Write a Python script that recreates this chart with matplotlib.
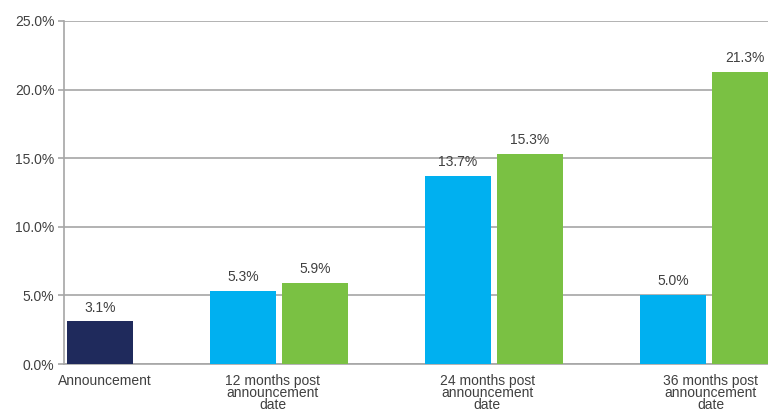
import matplotlib
matplotlib.use('Agg')
import matplotlib.pyplot as plt

# Values (percent)
categories = ['Announcement', '12 months post\nannouncement\ndate',
              '24 months post\nannouncement\ndate', '36 months post\nannouncement\ndate']
announcement_value = [3.1]
blue_values = [5.3, 13.7, 5.0]
green_values = [5.9, 15.3, 21.3]

navy = '#1f2a5c'
blue = '#00b0f0'
green = '#7ac143'
text_col = '#404040'
grid_col = '#a6a6a6'

plt.rcParams['font.family'] = ['Liberation Sans', 'DejaVu Sans']

fig = plt.figure(figsize=(7.68, 4.12), dpi=100)
ax = fig.add_axes([64 / 768, 48 / 412, 720 / 768, 343 / 412])

width = 0.307
offset = 0.167
groups = [1, 2, 3]

bars_a = ax.bar([offset], announcement_value, width, color=navy, zorder=3)
bars_b = ax.bar([g - offset for g in groups], blue_values, width, color=blue, zorder=3)
bars_g = ax.bar([g + offset for g in groups], green_values, width, color=green, zorder=3)

for bars in (bars_a, bars_b, bars_g):
    for b in bars:
        h = b.get_height()
        ax.annotate(f'{h:.1f}%', (b.get_x() + b.get_width() / 2, h),
                    xytext=(0, 5), textcoords='offset points',
                    ha='center', va='bottom', fontsize=10, color=text_col)

ax.set_xlim(0, 3.35)
ax.set_ylim(0, 25)
ax.set_yticks([0, 5, 10, 15, 20, 25])
ax.set_yticklabels([f'{v:.1f}%' for v in [0, 5, 10, 15, 20, 25]])
ax.yaxis.grid(True, color=grid_col, linewidth=1.2, zorder=0)

ax.set_xticks([0.19, 0.97, 1.97, 3.01])
ax.set_xticklabels(categories, linespacing=0.82)
ax.tick_params(axis='x', length=0, pad=7, labelsize=10, labelcolor=text_col)
ax.tick_params(axis='y', length=4, color=grid_col, width=1.2, pad=3,
               labelsize=10, labelcolor=text_col)

for s in ['top', 'right']:
    ax.spines[s].set_visible(False)
ax.spines['left'].set_color(grid_col)
ax.spines['left'].set_linewidth(1.2)
ax.spines['bottom'].set_color(grid_col)
ax.spines['bottom'].set_linewidth(1.2)

fig.savefig('out.png', dpi=100)
